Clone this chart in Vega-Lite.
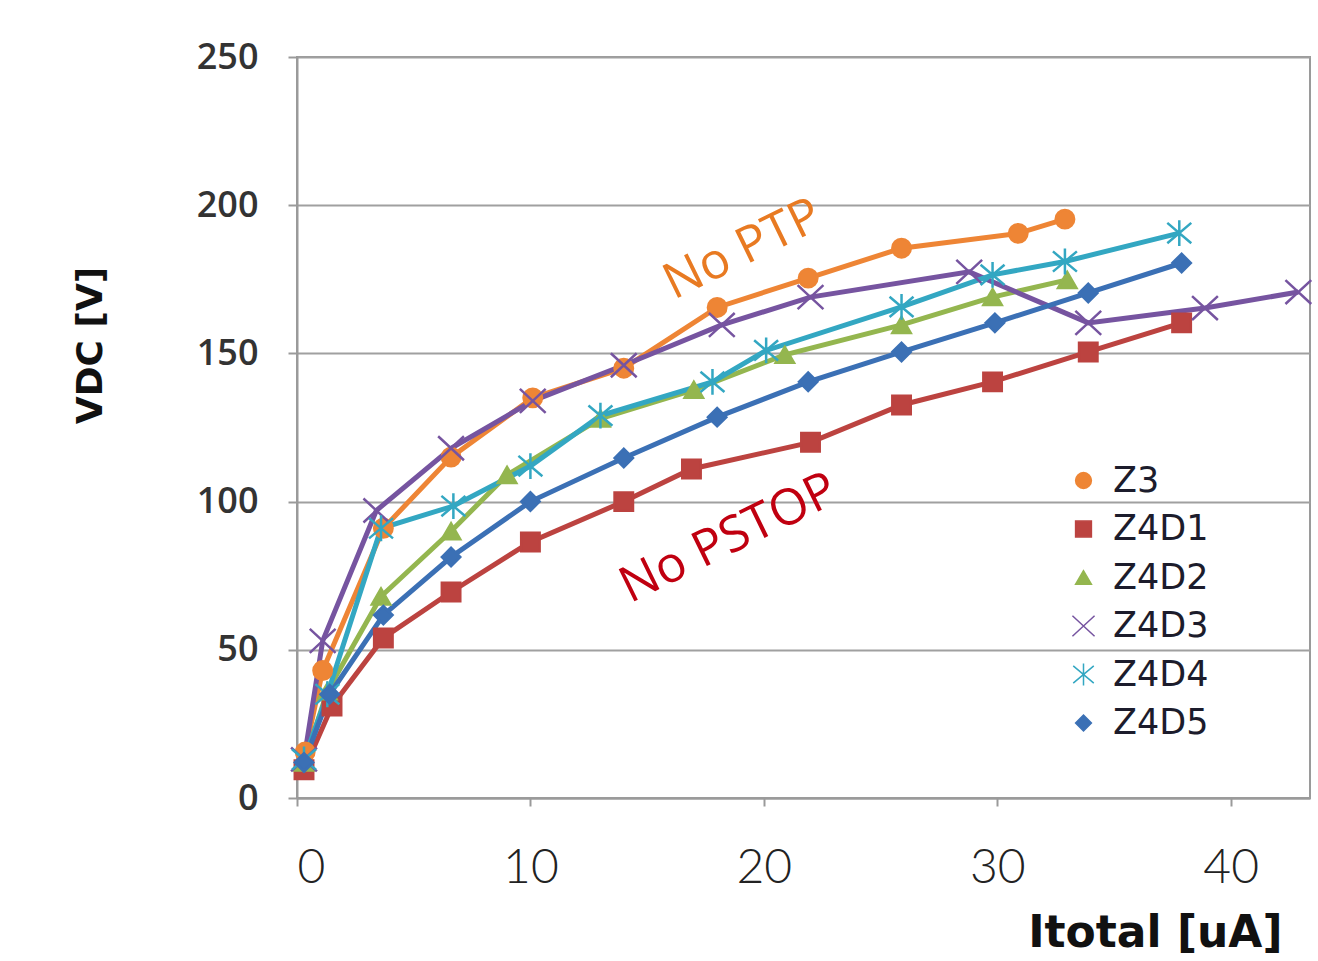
{
  "$schema": "https://vega.github.io/schema/vega-lite/v6.json",
  "autosize": "none",
  "width": 1013,
  "height": 741,
  "padding": {"left": 297, "top": 57, "right": 8, "bottom": 163},
  "background": "white",
  "config": {
    "view": {"stroke": "#9a9a9a", "strokeWidth": 2}
  },
  "data": {
    "values": [
      {"series": "Z3", "I": 0.35, "V": 15.5},
      {"series": "Z3", "I": 1.1, "V": 43},
      {"series": "Z3", "I": 3.7, "V": 91},
      {"series": "Z3", "I": 6.6, "V": 115},
      {"series": "Z3", "I": 10.1, "V": 135},
      {"series": "Z3", "I": 14.0, "V": 145},
      {"series": "Z3", "I": 18.0, "V": 165.5},
      {"series": "Z3", "I": 21.9, "V": 175.4},
      {"series": "Z3", "I": 25.9, "V": 185.5},
      {"series": "Z3", "I": 30.9, "V": 190.5},
      {"series": "Z3", "I": 32.9, "V": 195.3},
      {"series": "Z4D1", "I": 0.3, "V": 9.5},
      {"series": "Z4D1", "I": 1.5, "V": 31},
      {"series": "Z4D1", "I": 3.7, "V": 54},
      {"series": "Z4D1", "I": 6.6, "V": 69.5},
      {"series": "Z4D1", "I": 10.0, "V": 86.4},
      {"series": "Z4D1", "I": 14.0, "V": 100},
      {"series": "Z4D1", "I": 16.9, "V": 111},
      {"series": "Z4D1", "I": 22.0, "V": 120},
      {"series": "Z4D1", "I": 25.9, "V": 132.6},
      {"series": "Z4D1", "I": 29.8, "V": 140.4},
      {"series": "Z4D1", "I": 33.9, "V": 150.5},
      {"series": "Z4D1", "I": 37.9, "V": 160.3},
      {"series": "Z4D2", "I": 0.3, "V": 12},
      {"series": "Z4D2", "I": 1.3, "V": 36},
      {"series": "Z4D2", "I": 3.6, "V": 68},
      {"series": "Z4D2", "I": 6.6, "V": 90},
      {"series": "Z4D2", "I": 9.0, "V": 109},
      {"series": "Z4D2", "I": 13.0, "V": 128},
      {"series": "Z4D2", "I": 17.0, "V": 137.7},
      {"series": "Z4D2", "I": 20.9, "V": 149.5},
      {"series": "Z4D2", "I": 25.9, "V": 159.6},
      {"series": "Z4D2", "I": 29.8, "V": 169},
      {"series": "Z4D2", "I": 33.0, "V": 174.8},
      {"series": "Z4D3", "I": 0.3, "V": 13},
      {"series": "Z4D3", "I": 1.1, "V": 53},
      {"series": "Z4D3", "I": 3.4, "V": 97},
      {"series": "Z4D3", "I": 6.6, "V": 118},
      {"series": "Z4D3", "I": 10.1, "V": 134},
      {"series": "Z4D3", "I": 14.0, "V": 146},
      {"series": "Z4D3", "I": 18.2, "V": 159.6},
      {"series": "Z4D3", "I": 22.0, "V": 169},
      {"series": "Z4D3", "I": 28.8, "V": 177.5},
      {"series": "Z4D3", "I": 33.9, "V": 160.3},
      {"series": "Z4D3", "I": 38.9, "V": 165.3},
      {"series": "Z4D3", "I": 42.9, "V": 170.7},
      {"series": "Z4D4", "I": 0.3, "V": 13},
      {"series": "Z4D4", "I": 1.3, "V": 35},
      {"series": "Z4D4", "I": 3.6, "V": 91},
      {"series": "Z4D4", "I": 6.7, "V": 98.5},
      {"series": "Z4D4", "I": 10.0, "V": 112},
      {"series": "Z4D4", "I": 13.0, "V": 129},
      {"series": "Z4D4", "I": 17.8, "V": 140.4},
      {"series": "Z4D4", "I": 20.1, "V": 151},
      {"series": "Z4D4", "I": 25.9, "V": 165.7},
      {"series": "Z4D4", "I": 29.8, "V": 176.5},
      {"series": "Z4D4", "I": 32.9, "V": 181},
      {"series": "Z4D4", "I": 37.8, "V": 190.6},
      {"series": "Z4D5", "I": 0.3, "V": 12},
      {"series": "Z4D5", "I": 1.4, "V": 35},
      {"series": "Z4D5", "I": 3.7, "V": 61.7},
      {"series": "Z4D5", "I": 6.6, "V": 81.3},
      {"series": "Z4D5", "I": 10.0, "V": 100},
      {"series": "Z4D5", "I": 14.0, "V": 114.7},
      {"series": "Z4D5", "I": 18.0, "V": 128.5},
      {"series": "Z4D5", "I": 21.9, "V": 140.4},
      {"series": "Z4D5", "I": 25.9, "V": 150.5},
      {"series": "Z4D5", "I": 29.9, "V": 160.3},
      {"series": "Z4D5", "I": 33.9, "V": 170.4},
      {"series": "Z4D5", "I": 37.9, "V": 180.5}
    ]
  },
  "encoding": {
    "x": {
      "field": "I",
      "type": "quantitative",
      "scale": {"domain": [0, 43.4], "nice": false, "zero": false},
      "axis": {
        "values": [0, 10, 20, 30, 40],
        "grid": false,
        "domainColor": "#9a9a9a",
        "domainWidth": 2,
        "tickColor": "#9a9a9a",
        "tickWidth": 2,
        "tickSize": 8,
        "labelFont": "Lato",
        "labelFontSize": 48,
        "labelFontWeight": 300,
        "labelColor": "#222222",
        "labelPadding": 38,
        "labelFlush": true,
        "title": "Itotal [uA]",
        "titleFont": "DejaVu Sans",
        "titleFontSize": 44,
        "titleFontWeight": "bold",
        "titleColor": "#111111",
        "titleAlign": "right",
        "titleBaseline": "alphabetic",
        "titleX": 985,
        "titleY": 148
      }
    },
    "y": {
      "field": "V",
      "type": "quantitative",
      "scale": {"domain": [0, 250], "nice": false},
      "axis": {
        "values": [0, 50, 100, 150, 200, 250],
        "grid": true,
        "gridColor": "#a0a0a0",
        "gridWidth": 2,
        "domainColor": "#9a9a9a",
        "domainWidth": 2,
        "tickColor": "#9a9a9a",
        "tickWidth": 2,
        "tickSize": 9,
        "labelFont": "Open Sans",
        "labelFontSize": 36,
        "labelFontWeight": 600,
        "labelColor": "#333333",
        "labelPadding": 30,
        "title": "VDC [V]",
        "titleFont": "DejaVu Sans",
        "titleFontSize": 36,
        "titleFontWeight": "bold",
        "titleColor": "#111111",
        "titleAngle": -90,
        "titleAlign": "center",
        "titleBaseline": "middle",
        "titleX": -207,
        "titleY": 288
      }
    }
  },
  "layer": [
    {
      "mark": {"type": "line", "strokeWidth": 5},
      "encoding": {
        "color": {
          "field": "series",
          "type": "nominal",
          "scale": {
            "domain": ["Z3", "Z4D1", "Z4D2", "Z4D3", "Z4D4", "Z4D5"],
            "range": ["#EE8535", "#BC4340", "#94B64F", "#7654A0", "#33A7C2", "#3B70B5"]
          },
          "legend": {
            "orient": "none",
            "legendX": 769,
            "legendY": 406,
            "title": null,
            "padding": 0,
            "symbolSize": 250,
            "labelOffset": 12,
            "rowPadding": 12.5,
            "labelFont": "DejaVu Sans",
            "labelFontSize": 35,
            "labelColor": "#1c1c2c",
            "labelBaseline": "middle"
          }
        }
      }
    },
    {
      "mark": {"type": "point", "filled": true, "size": 340, "strokeWidth": 2.5, "opacity": 1},
      "encoding": {
        "color": {"field": "series", "type": "nominal", "legend": null},
        "stroke": {
          "field": "series",
          "type": "nominal",
          "scale": {
            "domain": ["Z3", "Z4D1", "Z4D2", "Z4D3", "Z4D4", "Z4D5"],
            "range": ["#EE8535", "#BC4340", "#94B64F", "#7654A0", "#33A7C2", "#3B70B5"]
          },
          "legend": null
        },
        "shape": {
          "field": "series",
          "type": "nominal",
          "scale": {
            "domain": ["Z3", "Z4D1", "Z4D2", "Z4D3", "Z4D4", "Z4D5"],
            "range": ["circle", "square", "triangle-up", "M-1.4,-1.3L1.4,1.3M-1.4,1.3L1.4,-1.3", "M-1.3,-1.1L1.3,1.1M-1.3,1.1L1.3,-1.1M0,-1.4L0,1.4", "diamond"]
          },
          "legend": null
        }
      }
    },
    {
      "data": {"values": [{"label": "No PTP", "I": 19.1, "V": 185}]},
      "mark": {"type": "text", "font": "Open Sans", "fontSize": 50, "color": "#E87A22", "angle": -26, "align": "center", "baseline": "middle"},
      "encoding": {"text": {"field": "label"}}
    },
    {
      "data": {"values": [{"label": "No PSTOP", "I": 18.5, "V": 87.5}]},
      "mark": {"type": "text", "font": "Open Sans", "fontSize": 50, "color": "#C00010", "angle": -26, "align": "center", "baseline": "middle"},
      "encoding": {"text": {"field": "label"}}
    }
  ]
}
